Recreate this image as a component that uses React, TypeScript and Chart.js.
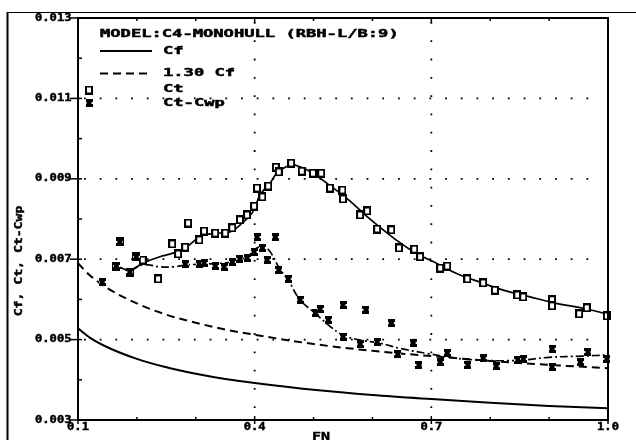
import { useEffect, useRef } from 'react';
import { Chart, registerables } from 'chart.js';

Chart.register(...registerables);

// Friction lines
const cfFn = [0.10, 0.12, 0.15, 0.20, 0.25, 0.30, 0.35, 0.40, 0.50, 0.60, 0.70, 0.80, 0.90, 1.00];
const cf = [0.00528, 0.00505, 0.00481, 0.00452, 0.00431, 0.00415, 0.00402, 0.00392, 0.00375, 0.00362, 0.00352, 0.00343, 0.00335, 0.00329];
const cf130 = [0.00690, 0.00660, 0.00628, 0.00590, 0.00562, 0.00542, 0.00525, 0.00512, 0.00489, 0.00472, 0.00459, 0.00447, 0.00437, 0.00429];

// Faired Ct curve
const ctFitFn = [0.163, 0.188, 0.210, 0.239, 0.261, 0.285, 0.307, 0.329, 0.358, 0.375, 0.397, 0.409, 0.426, 0.438, 0.460, 0.477, 0.499, 0.526, 0.560, 0.594, 0.640, 0.674, 0.703, 0.742, 0.788, 0.822, 0.866, 0.912, 0.958, 0.998];
const ctFit = [0.00684, 0.00673, 0.00690, 0.00706, 0.00715, 0.00731, 0.00756, 0.00764, 0.00768, 0.00785, 0.00818, 0.00860, 0.00889, 0.00914, 0.00934, 0.00930, 0.00914, 0.00885, 0.00847, 0.00802, 0.00748, 0.00715, 0.00694, 0.00665, 0.00640, 0.00623, 0.00607, 0.00590, 0.00578, 0.00564];

// Faired Ct-Cwp curve
const cwpFitFn = [0.163, 0.188, 0.210, 0.240, 0.262, 0.285, 0.320, 0.364, 0.387, 0.403, 0.415, 0.426, 0.443, 0.457, 0.477, 0.503, 0.528, 0.550, 0.579, 0.613, 0.647, 0.691, 0.759, 0.844, 0.900, 0.958, 1.000];
const cwpFit = [0.00684, 0.00673, 0.00686, 0.00681, 0.00681, 0.00686, 0.00688, 0.00694, 0.00706, 0.00727, 0.00731, 0.00719, 0.00675, 0.00648, 0.00599, 0.00565, 0.00533, 0.00511, 0.00499, 0.00491, 0.00478, 0.00466, 0.00451, 0.00448, 0.00456, 0.00459, 0.00462];

// Measured Ct
const ctFn = [0.165, 0.171, 0.188, 0.199, 0.210, 0.236, 0.260, 0.270, 0.282, 0.287, 0.306, 0.314, 0.333, 0.350, 0.362, 0.375, 0.387, 0.399, 0.404, 0.413, 0.423, 0.436, 0.441, 0.462, 0.480, 0.499, 0.513, 0.528, 0.549, 0.550, 0.579, 0.591, 0.608, 0.632, 0.645, 0.671, 0.681, 0.715, 0.727, 0.761, 0.788, 0.808, 0.846, 0.856, 0.905, 0.905, 0.951, 0.964, 0.998];
const ctVal = [0.00683, 0.00743, 0.00668, 0.00706, 0.00698, 0.00651, 0.00738, 0.00713, 0.00730, 0.00790, 0.00748, 0.00770, 0.00765, 0.00765, 0.00778, 0.00798, 0.00810, 0.00832, 0.00877, 0.00855, 0.00882, 0.00929, 0.00917, 0.00939, 0.00919, 0.00914, 0.00914, 0.00877, 0.00872, 0.00850, 0.00810, 0.00820, 0.00775, 0.00773, 0.00728, 0.00725, 0.00706, 0.00678, 0.00683, 0.00651, 0.00641, 0.00623, 0.00611, 0.00606, 0.00599, 0.00584, 0.00564, 0.00579, 0.00559];

// Measured Ct-Cwp
const cwpFn = [0.141, 0.165, 0.171, 0.188, 0.199, 0.282, 0.306, 0.314, 0.333, 0.348, 0.362, 0.375, 0.387, 0.399, 0.404, 0.413, 0.421, 0.435, 0.441, 0.457, 0.477, 0.503, 0.511, 0.525, 0.550, 0.550, 0.579, 0.589, 0.608, 0.632, 0.643, 0.669, 0.679, 0.715, 0.727, 0.762, 0.788, 0.810, 0.847, 0.856, 0.905, 0.905, 0.953, 0.966, 0.998];
const cwpVal = [0.00643, 0.00683, 0.00743, 0.00668, 0.00706, 0.00688, 0.00688, 0.00691, 0.00683, 0.00681, 0.00693, 0.00701, 0.00703, 0.00718, 0.00755, 0.00728, 0.00698, 0.00755, 0.00673, 0.00651, 0.00599, 0.00566, 0.00576, 0.00549, 0.00586, 0.00507, 0.00489, 0.00574, 0.00494, 0.00541, 0.00464, 0.00492, 0.00437, 0.00444, 0.00467, 0.00437, 0.00454, 0.00434, 0.00449, 0.00452, 0.00477, 0.00432, 0.00444, 0.00469, 0.00452];

// Axes
const yTicks = [0.013, 0.011, 0.009, 0.007, 0.005, 0.003];
const yTickLabels = ['0.013', '0.011', '0.009', '0.007', '0.005', '0.003'];
const yMinor = [0.012, 0.010, 0.008, 0.006, 0.004];
const yGrid = [0.011, 0.009, 0.007, 0.005];
const xTicks = [0.1, 0.4, 0.7, 1.0];
const xTickLabels = ['0.1', '0.4', '0.7', '1.0'];
const xMinor = [0.2, 0.3, 0.5, 0.6, 0.8, 0.9];
const xGrid = [0.4, 0.7];

const titleText = 'MODEL:C4-MONOHULL (RBH-L/B:9)';
const legendLabels = ['Cf', '1.30 Cf', 'Ct', 'Ct-Cwp'];
const xTitle = 'FN';
const yTitle = 'Cf, Ct, Ct-Cwp';

const MONO = 'DejaVu Sans Mono';

const pts = (xs: number[], ys: number[]) => xs.map((x, i) => ({ x, y: ys[i] }));

// open square marker for Ct
function makeOpenSquare(): HTMLCanvasElement {
  const c = document.createElement('canvas');
  c.width = 8;
  c.height = 9;
  const g = c.getContext('2d')!;
  g.fillStyle = '#fff';
  g.fillRect(0, 0, 8, 9);
  g.strokeStyle = '#000';
  g.lineWidth = 2;
  g.strokeRect(1, 1, 6, 7);
  return c;
}

// dense asterisk-like marker for Ct-Cwp
function makeStar(): HTMLCanvasElement {
  const c = document.createElement('canvas');
  c.width = 7;
  c.height = 8;
  const g = c.getContext('2d')!;
  g.fillStyle = '#000';
  g.fillRect(0, 0, 7, 8);
  g.fillStyle = '#fff';
  g.fillRect(0, 3, 1, 2);
  g.fillRect(6, 3, 1, 2);
  return c;
}

function stretchText(
  ctx: CanvasRenderingContext2D,
  text: string,
  x: number,
  y: number,
  size: number,
  advance: number,
  align: 'left' | 'center' | 'right'
) {
  ctx.save();
  ctx.font = `bold ${size}px "${MONO}"`;
  ctx.textAlign = 'left';
  ctx.textBaseline = 'middle';
  ctx.fillStyle = '#000';
  ctx.strokeStyle = '#000';
  ctx.setLineDash([]);
  const w = ctx.measureText(text).width;
  const sx = advance / (w / text.length);
  const total = w * sx;
  const x0 = align === 'left' ? x : align === 'center' ? x - total / 2 : x - total;
  ctx.translate(x0, y);
  ctx.scale(sx, 1);
  ctx.lineWidth = 0.45;
  ctx.fillText(text, 0, 0);
  ctx.strokeText(text, 0, 0);
  ctx.restore();
}

function seg(ctx: CanvasRenderingContext2D, x1: number, y1: number, x2: number, y2: number) {
  ctx.beginPath();
  ctx.moveTo(x1, y1);
  ctx.lineTo(x2, y2);
  ctx.stroke();
}

function makeFramePlugin(openSq: HTMLCanvasElement, star: HTMLCanvasElement) {
  return {
    id: 'plotFrame',
    beforeDatasetsDraw(chart: any) {
      const { ctx, chartArea: a, scales } = chart;
      const sx = scales.x;
      const sy = scales.y;
      ctx.save();
      ctx.strokeStyle = '#000';
      ctx.lineWidth = 1.8;
      ctx.setLineDash([1.8, 13.9]);
      for (const v of yGrid) {
        const py = sy.getPixelForValue(v);
        seg(ctx, a.left + 6, py, a.right - 6, py);
      }
      ctx.setLineDash([1.8, 16.5]);
      for (const v of xGrid) {
        const px = sx.getPixelForValue(v);
        seg(ctx, px, a.top + 4, px, a.bottom - 4);
      }
      ctx.restore();
    },
    afterDatasetsDraw(chart: any) {
      const { ctx, chartArea: a, scales } = chart;
      const sx = scales.x;
      const sy = scales.y;
      ctx.save();
      ctx.strokeStyle = '#000';
      ctx.setLineDash([]);

      // plot border
      ctx.lineWidth = 2;
      ctx.strokeRect(a.left, a.top, a.right - a.left, a.bottom - a.top);

      // y ticks
      ctx.lineWidth = 1.5;
      yTicks.forEach((v) => {
        const py = sy.getPixelForValue(v);
        seg(ctx, a.left - 8, py, a.left + 4, py);
      });
      yMinor.forEach((v) => {
        const py = sy.getPixelForValue(v);
        seg(ctx, a.left, py, a.left + 4, py);
      });
      // x ticks (bottom and top)
      xTicks.forEach((v) => {
        const px = sx.getPixelForValue(v);
        seg(ctx, px, a.bottom - 4, px, a.bottom + 4);
        seg(ctx, px, a.top, px, a.top + 5);
      });
      xMinor.forEach((v) => {
        const px = sx.getPixelForValue(v);
        seg(ctx, px, a.bottom - 3, px, a.bottom);
        seg(ctx, px, a.top, px, a.top + 3);
      });

      // tick labels
      yTicks.forEach((v, i) => {
        stretchText(ctx, yTickLabels[i], 35, sy.getPixelForValue(v), 10, 7.3, 'left');
      });
      xTicks.forEach((v, i) => {
        stretchText(ctx, xTickLabels[i], sx.getPixelForValue(v), a.bottom + 7.5, 10, 7.3, 'center');
      });

      // axis titles
      stretchText(ctx, xTitle, 321, a.bottom + 17, 11, 9, 'center');
      ctx.save();
      ctx.translate(19, 261);
      ctx.rotate(-Math.PI / 2);
      stretchText(ctx, yTitle, 0, 0, 11, 7.9, 'center');
      ctx.restore();

      // legend block
      stretchText(ctx, titleText, 100, 34.5, 10, 10.3, 'left');
      ctx.lineWidth = 2;
      seg(ctx, 100, 51, 152, 51);
      ctx.setLineDash([8, 5]);
      seg(ctx, 100, 73.5, 152, 73.5);
      ctx.setLineDash([]);
      stretchText(ctx, legendLabels[0], 163, 51, 10, 10.3, 'left');
      stretchText(ctx, legendLabels[1], 163, 73.5, 10, 10.3, 'left');
      stretchText(ctx, legendLabels[2], 163, 89, 10, 10.3, 'left');
      stretchText(ctx, legendLabels[3], 163, 103, 10, 10.3, 'left');
      ctx.drawImage(openSq, 89 - openSq.width / 2, 90 - openSq.height / 2);
      ctx.drawImage(star, 89 - star.width / 2, 103 - star.height / 2);

      // outer sheet frame
      ctx.lineWidth = 2;
      seg(ctx, 7.5, 12, 7.5, 440);
      ctx.lineWidth = 1.2;
      seg(ctx, 7, 12.5, 636, 12.5);
      ctx.restore();
    },
  };
}

export default function App() {
  const ref = useRef<HTMLCanvasElement | null>(null);

  useEffect(() => {
    const canvas = ref.current;
    if (!canvas) return;
    const openSq = makeOpenSquare();
    const star = makeStar();

    const chart = new Chart(canvas, {
      type: 'line',
      data: {
        datasets: [
          {
            label: 'Ct-Cwp',
            data: pts(cwpFn, cwpVal),
            showLine: false,
            pointStyle: star as any,
            pointRadius: 4,
            clip: false as any,
          },
          {
            label: 'Ct',
            data: pts(ctFn, ctVal),
            showLine: false,
            pointStyle: openSq as any,
            pointRadius: 4,
            clip: false as any,
          },
          {
            label: 'Ct fit',
            data: pts(ctFitFn, ctFit),
            borderColor: '#000',
            borderWidth: 1.7,
            pointRadius: 0,
            tension: 0.4,
          },
          {
            label: 'Ct-Cwp fit',
            data: pts(cwpFitFn, cwpFit),
            borderColor: '#000',
            borderWidth: 1.7,
            borderDash: [8, 3, 2, 3],
            pointRadius: 0,
            tension: 0.4,
          },
          {
            label: 'Cf',
            data: pts(cfFn, cf),
            borderColor: '#000',
            borderWidth: 2,
            pointRadius: 0,
            cubicInterpolationMode: 'monotone',
          },
          {
            label: '1.30 Cf',
            data: pts(cfFn, cf130),
            borderColor: '#000',
            borderWidth: 2,
            borderDash: [8, 5],
            pointRadius: 0,
            cubicInterpolationMode: 'monotone',
          },
        ],
      },
      options: {
        responsive: false,
        animation: false,
        devicePixelRatio: 1,
        layout: { padding: { left: 78, top: 18, right: 28, bottom: 20 } },
        scales: {
          x: { type: 'linear', min: 0.1, max: 1.0, display: false },
          y: { type: 'linear', min: 0.003, max: 0.013, display: false },
        },
        plugins: {
          legend: { display: false },
          tooltip: { enabled: false },
        },
      },
      plugins: [makeFramePlugin(openSq, star)],
    });

    return () => chart.destroy();
  }, []);

  return (
    <div style={{ position: 'fixed', left: 0, top: 0, width: 636, height: 440, background: '#fff' }}>
      <canvas ref={ref} width={636} height={440} style={{ display: 'block' }} />
    </div>
  );
}
